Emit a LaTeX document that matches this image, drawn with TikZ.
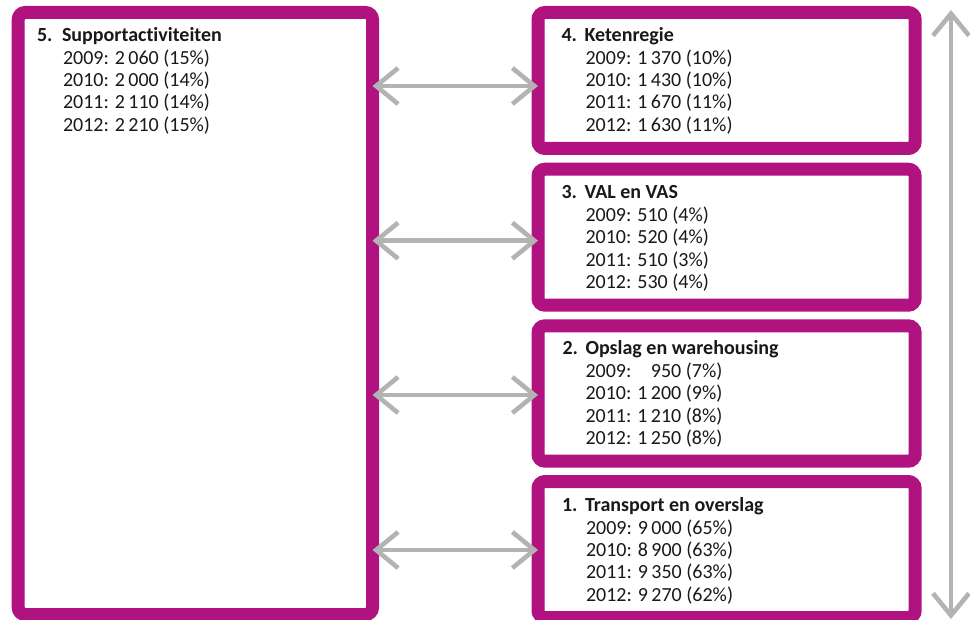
\documentclass[tikz,border=0pt]{standalone}
\usepackage{fontspec}
\setmainfont[Ligatures=NoCommon]{Carlito}
\usetikzlibrary{arrows.meta}
\definecolor{mag}{HTML}{B0137F}
\definecolor{arrgrey}{HTML}{B3B3B3}
\tikzset{
  boxframe/.style={rectangle, draw=mag, line width=13pt, rounded corners=7pt, fill=white,
    inner sep=0pt, outer sep=0pt},
  boxtext/.style={anchor=base west, inner sep=0pt, outer sep=0pt,
    font=\fontsize{20}{22.4}\selectfont, text=black!90},
  biarrow/.style={draw=arrgrey, line width=4.6pt,
    {Straight Barb[length=22pt,width=36pt]}-{Straight Barb[length=22pt,width=36pt]}},
}
\begin{document}
\begin{tikzpicture}[x=1pt,y=-1pt]
\useasboundingbox (0,0) rectangle (970,620);
% frames
\node[boxframe, minimum width=354.3pt, minimum height=602pt] (b5) at (195.35,313.5) {};
\node[boxframe, minimum width=377.2pt, minimum height=136pt] (b4) at (726.6,80.5) {};
\node[boxframe, minimum width=377.2pt, minimum height=136pt] (b3) at (726.6,237.2) {};
\node[boxframe, minimum width=377.2pt, minimum height=135.4pt] (b2) at (726.6,393.5) {};
\node[boxframe, minimum width=377.2pt, minimum height=136pt] (b1) at (726.6,549.5) {};
% texts
\node[boxtext] (t5) at (37,41.7) {\parbox[t]{320pt}{\textbf{\makebox[25pt][l]{5.}Supportactiviteiten}\\
  \hspace*{26pt}2009: 2\,060 (15\%)\\
  \hspace*{26pt}2010: 2\,000 (14\%)\\
  \hspace*{26pt}2011: 2\,110 (14\%)\\
  \hspace*{26pt}2012: 2\,210 (15\%)}};
\node[boxtext] (t4) at (561.5,41.7) {\parbox[t]{320pt}{\textbf{\makebox[23pt][l]{4.}Ketenregie}\\
  \hspace*{24pt}2009: 1\,370 (10\%)\\
  \hspace*{24pt}2010: 1\,430 (10\%)\\
  \hspace*{24pt}2011: 1\,670 (11\%)\\
  \hspace*{24pt}2012: 1\,630 (11\%)}};
\node[boxtext] (t3) at (561.5,199) {\parbox[t]{320pt}{\textbf{\makebox[23pt][l]{3.}VAL en VAS}\\
  \hspace*{24pt}2009: 510 (4\%)\\
  \hspace*{24pt}2010: 520 (4\%)\\
  \hspace*{24pt}2011: 510 (3\%)\\
  \hspace*{24pt}2012: 530 (4\%)}};
\node[boxtext] (t2) at (562.5,355) {\parbox[t]{320pt}{\textbf{\makebox[23pt][l]{2.}Opslag en warehousing}\\
  \hspace*{23pt}2009: \phantom{1\,}950 (7\%)\\
  \hspace*{23pt}2010: 1\,200 (9\%)\\
  \hspace*{23pt}2011: 1\,210 (8\%)\\
  \hspace*{23pt}2012: 1\,250 (8\%)}};
\node[boxtext] (t1) at (562,511.7) {\parbox[t]{320pt}{\textbf{\makebox[23pt][l]{1.}Transport en overslag}\\
  \hspace*{24pt}2009: 9\,000 (65\%)\\
  \hspace*{24pt}2010: 8\,900 (63\%)\\
  \hspace*{24pt}2011: 9\,350 (63\%)\\
  \hspace*{24pt}2012: 9\,270 (62\%)}};
% connectors
\draw[biarrow] (b5.east |- 0,86) -- (b4.west |- 0,86);
\draw[biarrow] (b5.east |- 0,240.7) -- (b3.west |- 0,240.7);
\draw[biarrow] (b5.east |- 0,395) -- (b2.west |- 0,395);
\draw[biarrow] (b5.east |- 0,550) -- (b1.west |- 0,550);
\coordinate (vtop) at (951,10);
\coordinate (vbot) at (951,619);
\draw[biarrow] (vbot) -- (vtop);
\end{tikzpicture}
\end{document}
